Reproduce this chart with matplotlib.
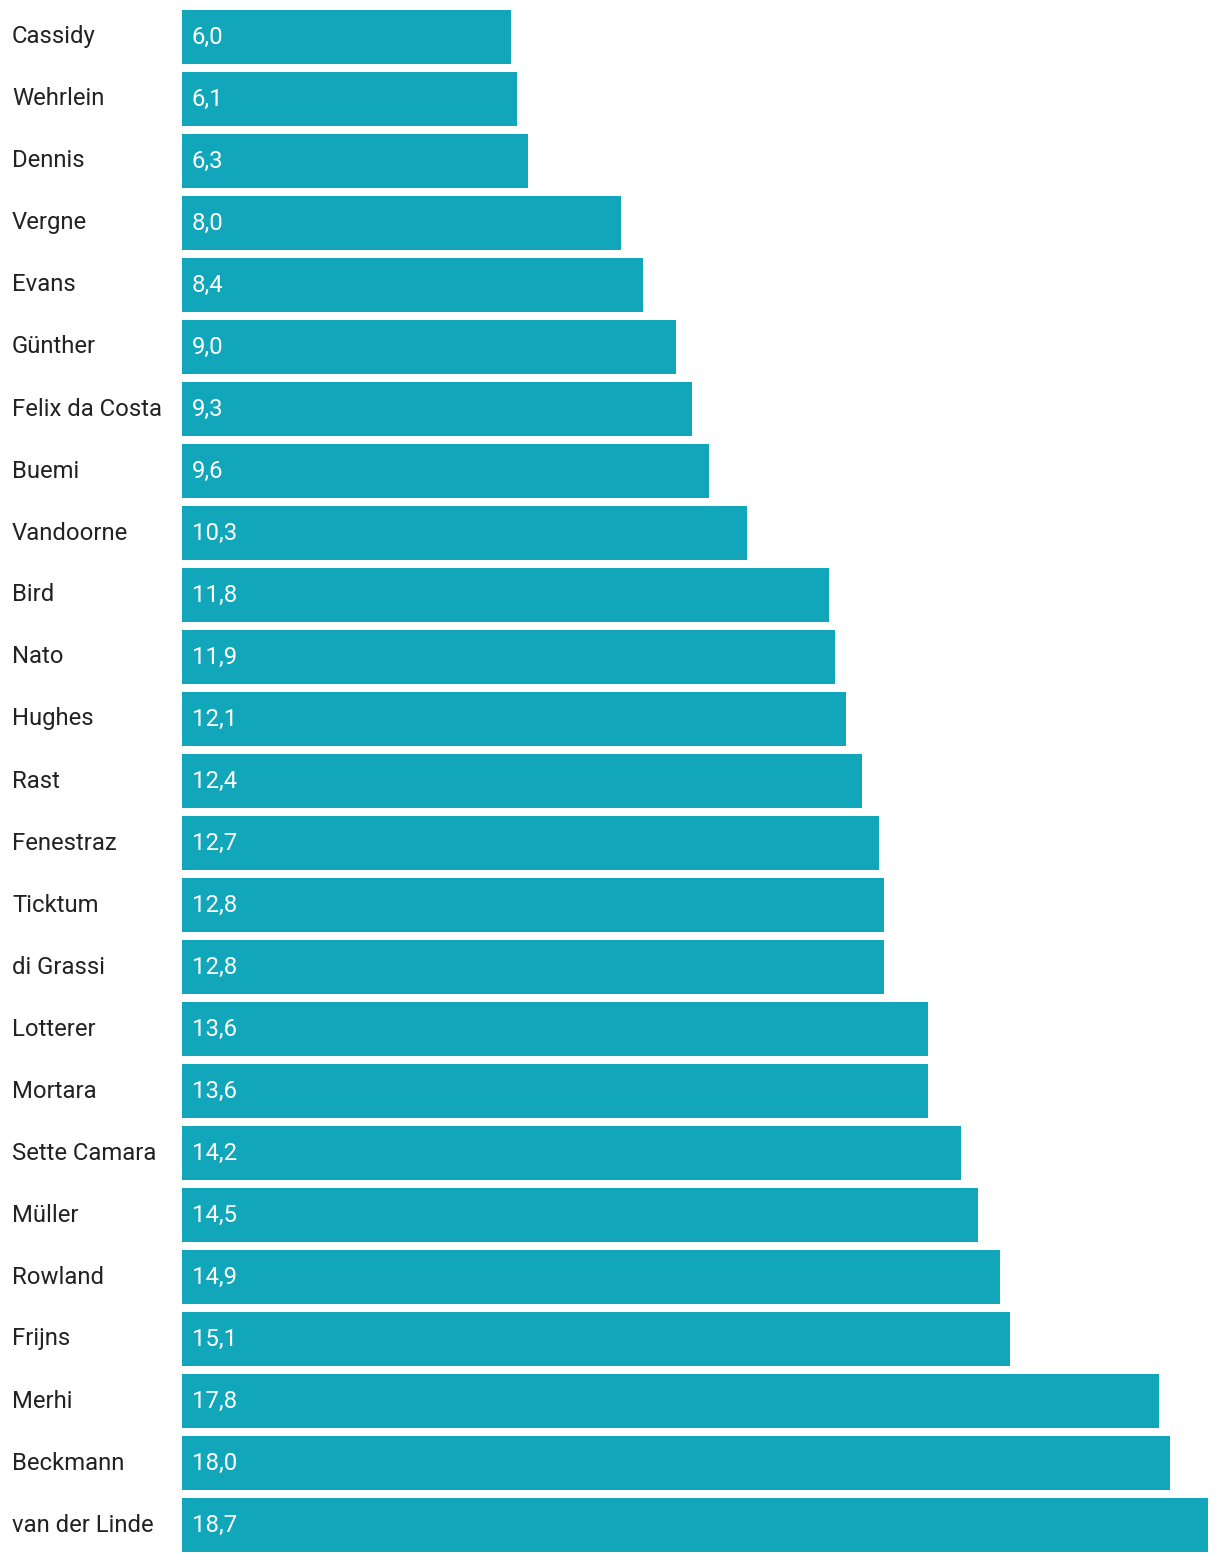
import matplotlib.pyplot as plt
import matplotlib.transforms as mtrans

# Data
drivers = ['Cassidy', 'Wehrlein', 'Dennis', 'Vergne', 'Evans', 'Günther',
           'Felix da Costa', 'Buemi', 'Vandoorne', 'Bird', 'Nato', 'Hughes',
           'Rast', 'Fenestraz', 'Ticktum', 'di Grassi', 'Lotterer', 'Mortara',
           'Sette Camara', 'Müller', 'Rowland', 'Frijns', 'Merhi', 'Beckmann',
           'van der Linde']
values = [6.0, 6.1, 6.3, 8.0, 8.4, 9.0, 9.3, 9.6, 10.3, 11.8, 11.9, 12.1,
          12.4, 12.7, 12.8, 12.8, 13.6, 13.6, 14.2, 14.5, 14.9, 15.1, 17.8,
          18.0, 18.7]

plt.rcParams['font.family'] = ['Roboto', 'DejaVu Sans']

W, H = 1220, 1562
fig = plt.figure(figsize=(W / 100, H / 100), dpi=100)
ax = fig.add_axes([182 / W, 10 / H, (1208 - 182) / W, (1552 - 10) / H])

color = '#12a6ba'
h = 54 / 62
n = len(drivers)
pos = list(range(n))
ax.barh(pos, values, height=h, color=color)
ax.set_xlim(0, max(values))
ax.set_ylim(n - 1 + h / 2, -h / 2)
ax.axis('off')

# value labels inside bars
for i, v in enumerate(values):
    ax.text(0.18, i, f'{v:.1f}'.replace('.', ','), color='white',
            fontsize=17.2, va='center', ha='left')

# driver names on the left
trans = mtrans.blended_transform_factory(fig.transFigure, ax.transData)
for i, name in enumerate(drivers):
    fig.text(12 / W, i, name, fontsize=17.2, color='#222222', va='center',
             ha='left', transform=trans)

fig.savefig('out.png', dpi=100)
